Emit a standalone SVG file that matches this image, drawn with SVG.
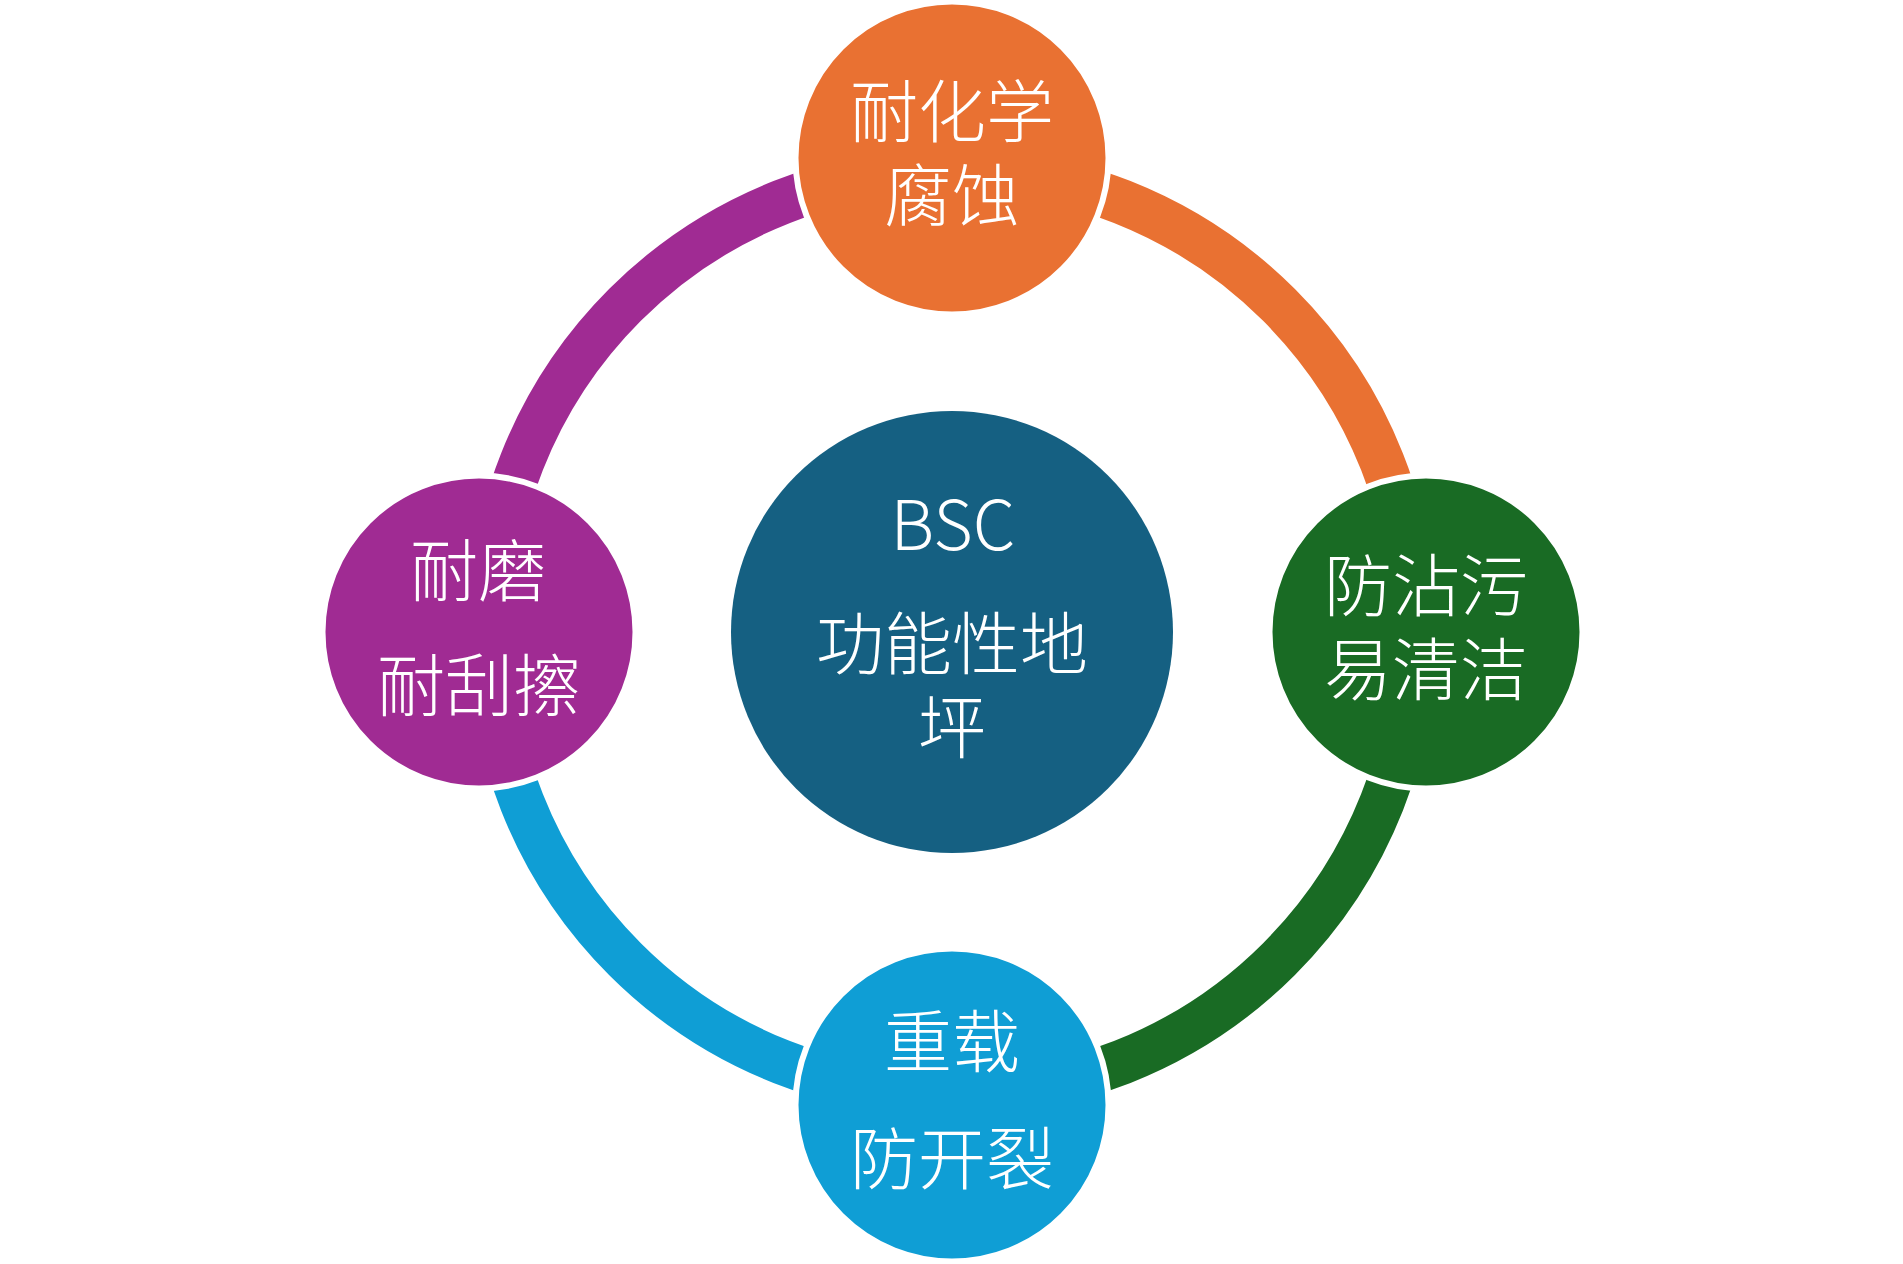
<svg xmlns="http://www.w3.org/2000/svg" width="1903" height="1264" viewBox="0 0 1903 1264">
<style>
.arc{fill:none;stroke-width:45;stroke-linecap:butt}
.node{stroke:#FFFFFF;stroke-width:6}
.lbl{fill:#FFFFFF;font-family:"Noto Sans CJK SC","Noto Sans",sans-serif;font-weight:300;font-size:68px;text-anchor:middle}
</style>
<rect x="0" y="0" width="1903" height="1264" fill="#FFFFFF"/>
<g id="connectors">
<path class="arc" stroke="#E97132" d="M 952 169.5 A 462.5 462.5 0 0 1 1414.5 632"/>
<path class="arc" stroke="#196B24" d="M 1414.5 632 A 462.5 462.5 0 0 1 952 1094.5"/>
<path class="arc" stroke="#0F9ED5" d="M 952 1094.5 A 462.5 462.5 0 0 1 489.5 632"/>
<path class="arc" stroke="#A02B93" d="M 489.5 632 A 462.5 462.5 0 0 1 952 169.5"/>
</g>
<g id="center">
<circle cx="952" cy="632" r="221" fill="#156082"/>
<text class="lbl" x="953" y="550">BSC</text>
<text class="lbl" x="952" y="669">功能性地</text>
<text class="lbl" x="952" y="753">坪</text>
</g>
<g id="top">
<circle class="node" cx="952" cy="158" r="156.5" fill="#E97132"/>
<text class="lbl" x="952" y="137">耐化学</text>
<text class="lbl" x="952" y="221">腐蚀</text>
</g>
<g id="right">
<circle class="node" cx="1426" cy="632" r="156.5" fill="#196B24"/>
<text class="lbl" x="1426" y="611">防沾污</text>
<text class="lbl" x="1426" y="695">易清洁</text>
</g>
<g id="bottom">
<circle class="node" cx="952" cy="1105" r="156.5" fill="#0F9ED5"/>
<text class="lbl" x="952" y="1067">重载</text>
<text class="lbl" x="952" y="1184">防开裂</text>
</g>
<g id="left">
<circle class="node" cx="479" cy="632" r="156.5" fill="#A02B93"/>
<text class="lbl" x="478" y="596">耐磨</text>
<text class="lbl" x="479" y="711">耐刮擦</text>
</g>
</svg>
